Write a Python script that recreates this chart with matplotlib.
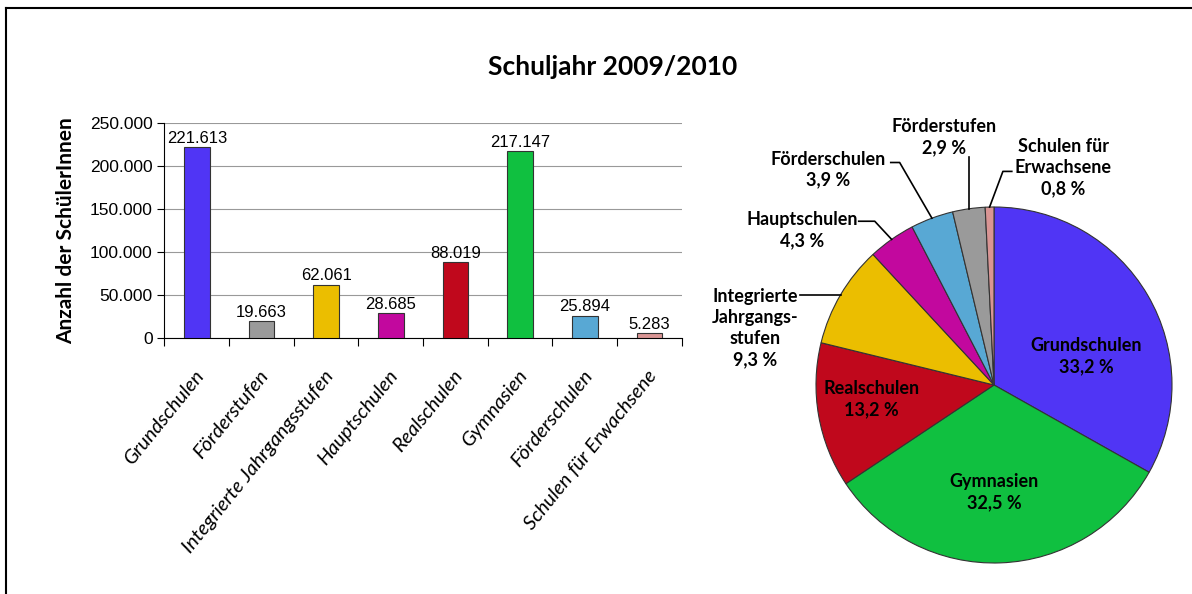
import numpy as np
import matplotlib
matplotlib.use('Agg')
import matplotlib.pyplot as plt

plt.rcParams['font.family'] = ['Lato', 'DejaVu Sans']

# data
schools = ['Grundschulen', 'Förderstufen', 'Integrierte Jahrgangsstufen', 'Hauptschulen',
           'Realschulen', 'Gymnasien', 'Förderschulen', 'Schulen für Erwachsene']
pupils = [221613, 19663, 62061, 28685, 88019, 217147, 25894, 5283]
colors = ['#5035F5', '#9A9A9A', '#EBBE00', '#C2089E', '#C0081C', '#10C040', '#58A8D4', '#D99594']

# pie order (clockwise from top) and labels
pie_order = [0, 5, 4, 2, 3, 6, 1, 7]
pie_names = ['Grundschulen', 'Gymnasien', 'Realschulen', 'Integrierte\nJahrgangs-\nstufen',
             'Hauptschulen', 'Förderschulen', 'Förderstufen', 'Schulen für\nErwachsene']

num_font = ['Liberation Sans Narrow', 'Liberation Sans', 'DejaVu Sans']


def de_int(v):
    return f'{v:,}'.replace(',', '.')


fig = plt.figure(figsize=(11.92, 5.94), dpi=100)

# outer frame (left and top only visible)
fig.add_artist(plt.Line2D([0.005, 0.005], [0.0, 0.987], color='black', lw=1.5, transform=fig.transFigure))
fig.add_artist(plt.Line2D([0.005, 1.0], [0.987, 0.987], color='black', lw=1.5, transform=fig.transFigure))

fig.text(0.514, 0.887, 'Schuljahr 2009/2010', ha='center', va='center', fontsize=19, fontweight='bold')

# ---- bar chart ----
ax = fig.add_axes([0.138, 0.431, 0.434, 0.362])
x = np.arange(len(schools))
ax.bar(x, pupils, width=0.4, color=colors, edgecolor='#333333', linewidth=0.8, zorder=3)
for xi, v in zip(x, pupils):
    ax.text(xi, v + 1500, de_int(v), ha='center', va='bottom', fontsize=12, family=num_font)

ax.set_xlim(-0.5, len(schools) - 0.5)
ax.set_ylim(0, 250000)
ax.set_yticks(np.arange(0, 250001, 50000))
ax.set_yticklabels([de_int(v) for v in range(0, 250001, 50000)], family=num_font, fontsize=12.5)
ax.yaxis.grid(True, color='#999999', lw=0.8, zorder=0)
# ticks between categories, labels at category centres
ax.set_xticks(np.arange(-0.5, len(schools)))
ax.set_xticklabels([])
ax.set_xticks(x + 0.06, minor=True)
ax.set_xticklabels(schools, minor=True, rotation=51, ha='right', va='center',
                   rotation_mode='anchor', fontstyle='italic', fontsize=14.5)
ax.tick_params(axis='x', which='major', length=6, direction='out')
ax.tick_params(axis='x', which='minor', length=0, pad=25)
ax.tick_params(axis='y', length=5, direction='out')
for s in ['top', 'right']:
    ax.spines[s].set_visible(False)
ax.set_ylabel('Anzahl der SchülerInnen', fontsize=15, fontweight='bold', labelpad=10)

# ---- pie chart ----
r_px = 178
pax = fig.add_axes([(994 - r_px) / 1192, (594 - 385 - r_px) / 594, 2 * r_px / 1192, 2 * r_px / 594])
pie_vals = [pupils[i] for i in pie_order]
pie_cols = [colors[i] for i in pie_order]
wedges, _ = pax.pie(pie_vals, colors=pie_cols, startangle=90, counterclock=False, radius=1,
                    wedgeprops=dict(edgecolor='#333333', linewidth=0.8))
pax.set_xlim(-1, 1)
pax.set_ylim(-1, 1)
pax.set_aspect('auto')
pax.axis('off')

total = sum(pie_vals)
shares = [v / total * 100 for v in pie_vals]
pct = [f'{s:.1f} %'.replace('.', ',') for s in shares]

# label positions (data coords), inside ones first
text_pos = [(0.52, 0.16), (0.0, -0.60), (-0.69, -0.08), (-1.34, 0.32),
            (-1.08, 0.87), (-0.93, 1.21), (-0.28, 1.39), (0.39, 1.22)]
# leader line points after the wedge edge point
leaders = {3: [(-1.09, None)],
           4: [(-0.67, 0.92), (-0.76, 0.92)],
           5: [(-0.53, 1.25), (-0.58, 1.25)],
           6: [(None, 1.28)],
           7: [(0.05, 1.20), (0.10, 1.20)]}

for k, w in enumerate(wedges):
    tx, ty = text_pos[k]
    pax.text(tx, ty, f'{pie_names[k]}\n{pct[k]}', ha='center', va='center', fontsize=13,
             fontweight='bold', linespacing=1.3, clip_on=False)
    if k in leaders:
        ang = np.deg2rad((w.theta1 + w.theta2) / 2)
        ex, ey = np.cos(ang), np.sin(ang)
        pts = [(ex, ey)]
        for px, py in leaders[k]:
            pts.append((ex if px is None else px, ey if py is None else py))
        xs, ys = zip(*pts)
        pax.plot(xs, ys, color='black', lw=1.2, clip_on=False)

fig.savefig('out.png', dpi=100, facecolor='white')
